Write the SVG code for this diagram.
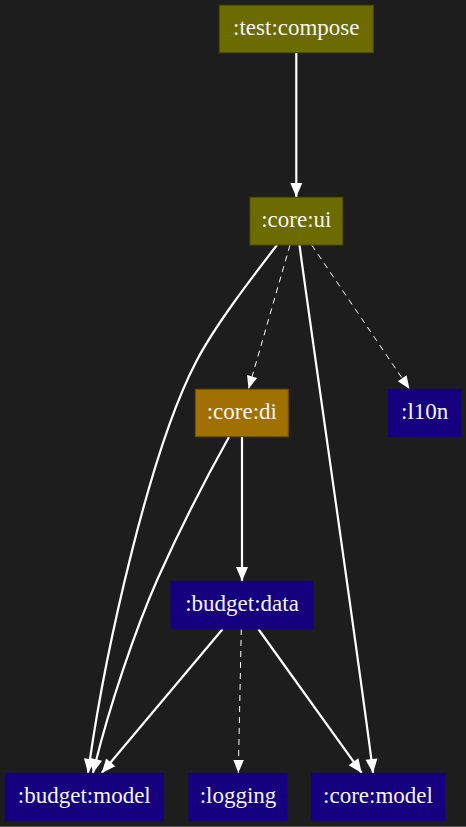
<svg xmlns="http://www.w3.org/2000/svg" width="466" height="827" viewBox="0 0 466 827">
<style>
.bg{fill:#1d1d1d}
.olive{fill:#6b6b00;stroke:#4d4d00;stroke-width:1}
.orange{fill:#a07000;stroke:#6e4f00;stroke-width:1}
.blue{fill:#150080;stroke:#150080;stroke-width:1}
.lbl{font-family:"Liberation Serif","Times New Roman",serif;font-size:23px;fill:#f4f4f4;text-anchor:middle}
.e{fill:none;stroke:#ffffff;stroke-width:2.2;marker-end:url(#solid)}
.d{fill:none;stroke:#ffffff;stroke-width:1;stroke-dasharray:6,5;marker-end:url(#dash)}
</style>
<defs>
<marker id="solid" markerUnits="userSpaceOnUse" viewBox="0 -7 15 14" markerWidth="15" markerHeight="14" refX="14" refY="0" orient="auto" overflow="visible">
<path d="M0,-6 L14,0 L0,6 z" fill="#ffffff"/>
</marker>
<marker id="dash" markerUnits="userSpaceOnUse" viewBox="0 -6 14 12" markerWidth="14" markerHeight="12" refX="13" refY="0" orient="auto" overflow="visible">
<path d="M0,-5.2 L13,0 L0,5.2 z" fill="#ffffff"/>
</marker>
</defs>
<rect class="bg" x="0" y="0" width="466" height="827"/>
<rect x="0" y="826" width="466" height="1" fill="#5a5a5a"/>
<g id="edges">
<path class="e" d="M296.3,53 L296.3,197"/>
<path class="e" d="M277,245 C250,280 214,327 196,362 C150,450 105,650 88,773"/>
<path class="d" d="M290,245 L248.5,389"/>
<path class="d" d="M311.7,245 L409.5,389"/>
<path class="e" d="M299.5,245 C308,310 366,710 373,773"/>
<path class="e" d="M229,437 C205,480 175,540 158,578 C135,630 108,710 93,773"/>
<path class="e" d="M242,437 L242,581"/>
<path class="e" d="M222.7,629 L101.7,773"/>
<path class="d" d="M241.3,629 L238.3,773"/>
<path class="e" d="M258.3,629 L361.7,773"/>
</g>
<g id="test_compose"><rect class="olive" x="219.3" y="5.3" width="154" height="47.4"/><text class="lbl" x="296.3" y="35">:test:compose</text></g>
<g id="core_ui"><rect class="olive" x="250" y="197.3" width="92.7" height="47.7"/><text class="lbl" x="296.3" y="227">:core:ui</text></g>
<g id="core_di"><rect class="orange" x="195.3" y="389.3" width="93" height="47.4"/><text class="lbl" x="241.8" y="419">:core:di</text></g>
<g id="l10n"><rect class="blue" x="388.7" y="389.3" width="72" height="47.4"/><text class="lbl" x="424.7" y="419">:l10n</text></g>
<g id="budget_data"><rect class="blue" x="171" y="581.3" width="142" height="47.7"/><text class="lbl" x="242" y="611">:budget:data</text></g>
<g id="budget_model"><rect class="blue" x="5.3" y="773.3" width="158" height="47.4"/><text class="lbl" x="84.3" y="803">:budget:model</text></g>
<g id="logging"><rect class="blue" x="189" y="773.3" width="98" height="47.4"/><text class="lbl" x="238" y="803">:logging</text></g>
<g id="core_model"><rect class="blue" x="311.3" y="773.3" width="133.4" height="47.4"/><text class="lbl" x="378" y="803">:core:model</text></g>
</svg>
